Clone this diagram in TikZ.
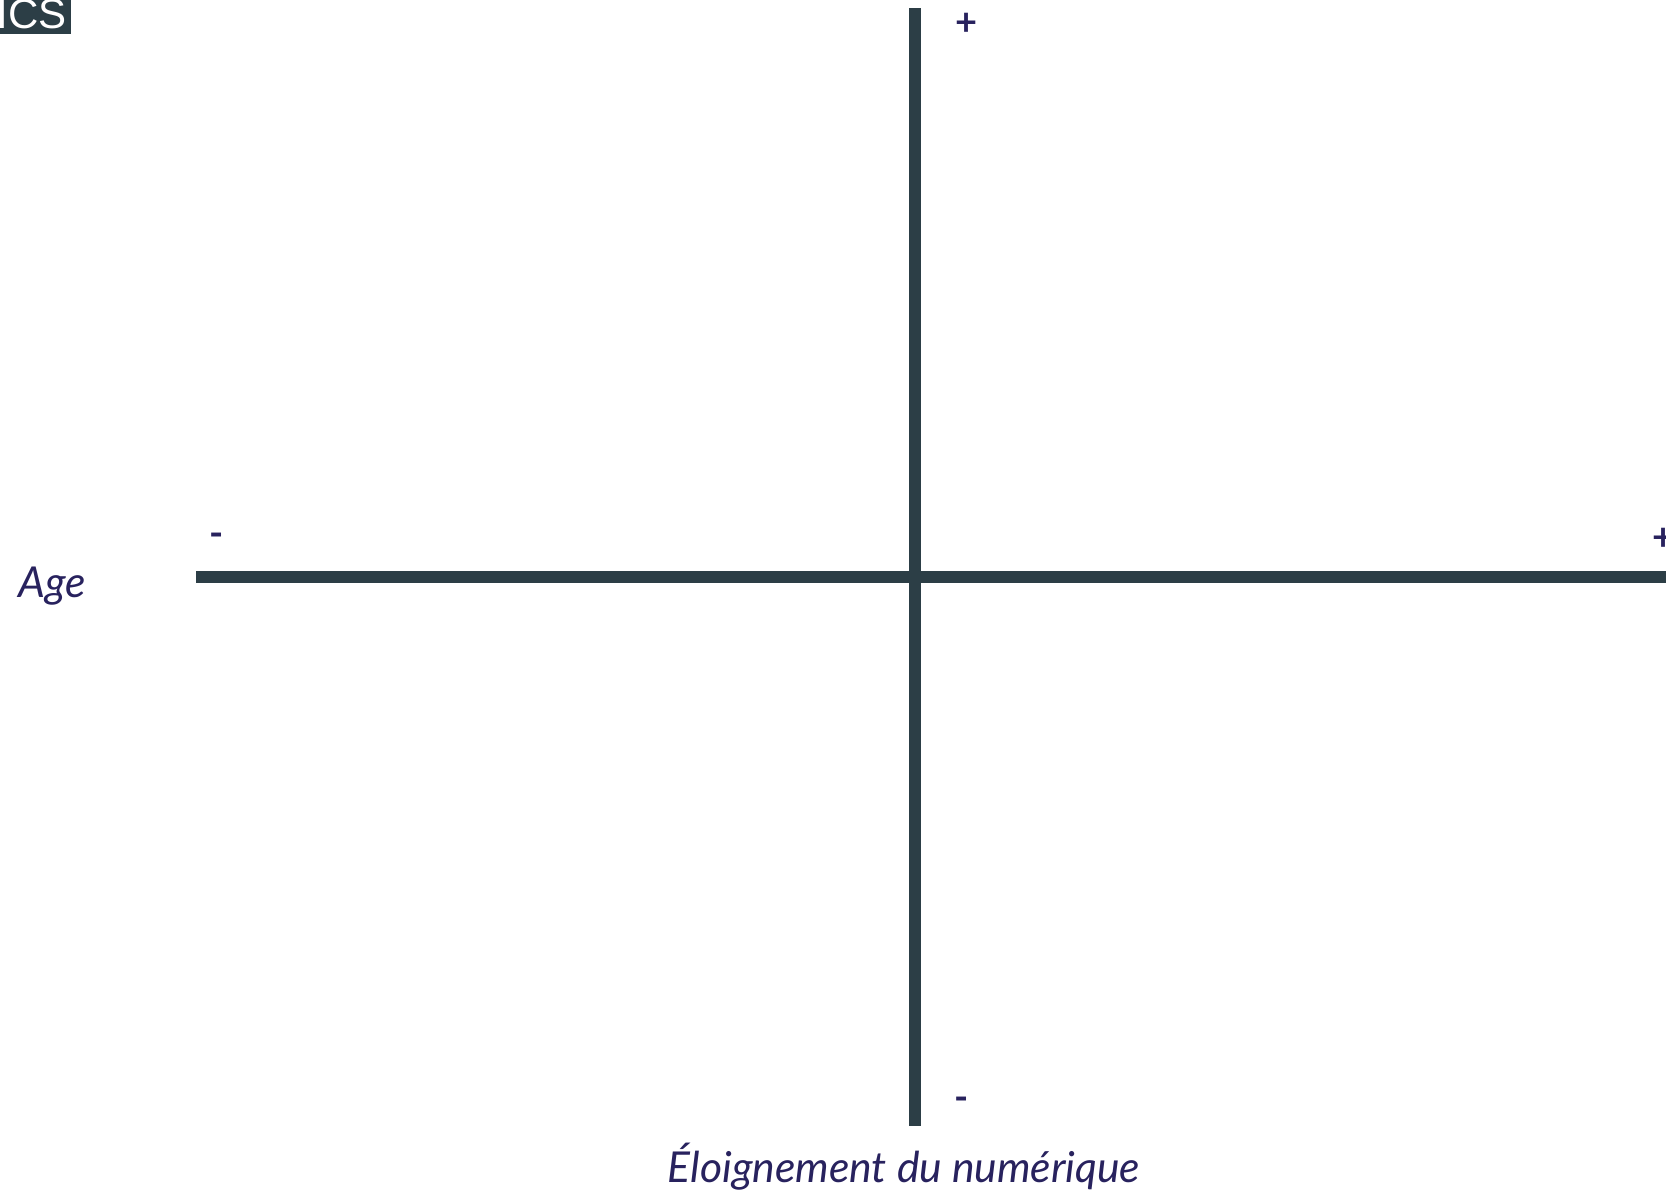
\documentclass[tikz,border=0pt]{standalone}
\usepackage{fontspec}
\setmainfont{Lato}
\setsansfont{Liberation Sans}
\usetikzlibrary{positioning}
\definecolor{slate}{RGB}{44,62,70}
\definecolor{navy}{RGB}{40,34,94}
\tikzset{
  every picture/.style={x=0.5pt, y=-0.5pt},
  axisline/.style={draw=slate, line width=6pt},
  sign/.style={font=\fontsize{19}{21}\selectfont\bfseries, text=navy, inner sep=0pt},
  axislabel/.style={font=\fontsize{21.3}{25}\selectfont\itshape, text=navy, inner sep=0pt},
  tag/.style={fill=slate, text=white, font=\sffamily\fontsize{21}{24}\selectfont, inner xsep=2pt, inner ysep=3pt},
}

\begin{document}
\begin{tikzpicture}
  \useasboundingbox (0,0) rectangle (1666,1194);
  \begin{scope}
    \clip (0,0) rectangle (1666,1194);
    % corner tag
    \node[tag, anchor=base east] (tag) at (71,28) {ICS};
    % axes
    \coordinate (ytop) at (915,8);
    \coordinate (ybot) at (915,1126);
    \coordinate (xleft) at (196,577);
    \coordinate (xright) at (1670,577);
    \draw[axisline] (xleft) -- (xright);
    \draw[axisline] (ytop) -- (ybot);
    % signs
    \node[sign, anchor=base] (yplus) at (967,35) {+};
    \node[sign, anchor=base] (yminus) at (962,1110) {-};
    \node[sign, anchor=base] (xminus) at (217,546) {-};
    \node[sign, anchor=base] (xplus) at (1664,550) {+};
  \end{scope}
  % labels
  \node[axislabel, anchor=base west] (agelabel) at (18,597) {Age};
  \node[axislabel, anchor=base] (distlabel) at (904,1182) {Éloignement du numérique};
\end{tikzpicture}
\end{document}
